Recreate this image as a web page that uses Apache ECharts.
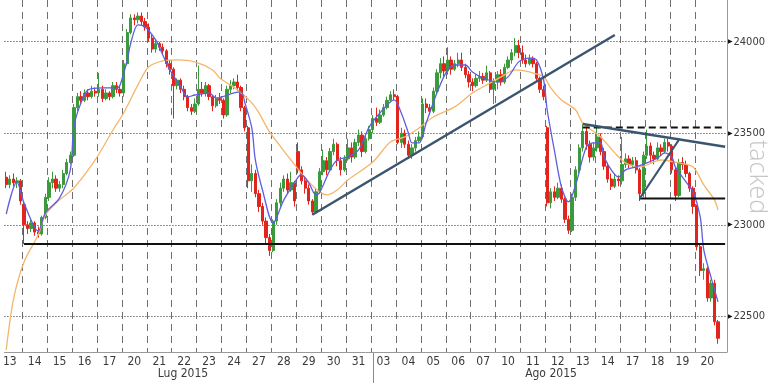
<!DOCTYPE html>
<html><head><meta charset="utf-8">
<script src="https://cdn.jsdelivr.net/npm/echarts@6/dist/echarts.min.js"></script>
<style>html,body{margin:0;padding:0;background:#fff}#c{width:768px;height:384px}</style>
</head><body><div id="c"></div>
<script>
// ---- data ----
const dayLabels = ['13','14','15','16','17','20','21','22','23','24','27','28','29','30','31',
                   '03','04','05','06','07','10','11','12','13','14','17','18','19','20'];
const monthLabels = ['Lug 2015', 'Ago 2015'];
const candlesPerDay = 7;
const firstDayCandles = 5;      // partial first day visible
const emptyTail = 2;            // empty slots after last candle
const monthStartIdx = 103;      // first candle of 03 Ago

// [open, close, low, high]
const julyCandles = [
 [23260,23220,23200,23290],[23220,23250,23200,23270],[23250,23230,23210,23280],[23230,23240,23200,23260],[23240,23130,23110,23250],
 [23110,23000,22895,23130],[23000,22980,22950,23020],[22980,23010,22960,23030],[23010,22960,22940,23020],[22960,22950,22930,22990],[22950,23040,22940,23050],[23040,23150,23030,23170],
 [23150,23230,23130,23260],[23230,23250,23200,23290],[23250,23200,23180,23270],[23200,23220,23180,23240],[23220,23280,23200,23300],[23280,23340,23270,23360],[23340,23380,23330,23400],
 [23380,23640,23370,23660],[23640,23700,23620,23720],[23700,23680,23660,23730],[23680,23720,23670,23740],[23720,23700,23680,23740],[23700,23730,23690,23760],[23730,23720,23700,23750],
 [23720,23740,23700,23830],[23740,23690,23670,23760],[23690,23720,23680,23740],[23720,23700,23680,23730],[23700,23760,23690,23780],[23760,23740,23720,23780],[23740,23720,23700,23760],
 [23720,23880,23700,23900],[23880,24050,23870,24070],[24050,24130,24040,24150],[24130,24120,24090,24150],[24120,24140,24100,24160],[24140,24110,24090,24160],[24110,24080,24060,24130],
 [24080,24020,24000,24100],[24020,23960,23940,24040],[23960,23990,23940,24010],[23990,23970,23950,24000],[23970,23950,23930,23990],[23950,23880,23860,23960],[23880,23850,23820,23900],
 [23850,23760,23580,23860],[23760,23790,23740,23800],[23790,23740,23720,23800],[23740,23700,23680,23760],[23700,23640,23620,23710],[23640,23620,23600,23660],[23620,23660,23610,23690],
 [23660,23740,23650,23870],[23740,23720,23700,23780],[23720,23760,23700,23780],[23760,23700,23680,23770],[23700,23650,23620,23710],[23650,23690,23640,23710],[23690,23680,23660,23720],
 [23680,23600,23580,23690],[23600,23740,23590,23760],[23740,23760,23720,23790],[23760,23780,23740,23800],[23780,23750,23730,23820],[23750,23640,23620,23760],[23640,23530,23510,23650],
 [23530,23240,23200,23540],[23240,23280,23180,23330],[23280,23170,23150,23300],[23170,23100,23070,23190],[23100,23020,23000,23120],[23020,22930,22900,23040],[22930,22860,22830,22950],
 [22860,23020,22850,23030],[23020,23120,23000,23140],[23120,23200,23100,23230],[23200,23250,23180,23270],[23250,23190,23170,23280],[23190,23230,23180,23290],[23230,23130,23100,23240],
 [23400,23300,23280,23450],[23300,23240,23220,23320],[23240,23200,23170,23260],[23200,23130,23110,23220],[23130,23070,23055,23140],[23070,23180,23060,23200],[23180,23290,23170,23310],
 [23290,23350,23270,23410],[23350,23300,23270,23370],[23300,23400,23290,23420],[23400,23440,23380,23470],[23440,23350,23320,23450],[23350,23300,23270,23370],[23300,23360,23290,23380],
 [23360,23420,23350,23470],[23420,23370,23340,23450],[23370,23450,23360,23470],[23450,23490,23430,23520],[23490,23400,23370,23510],[23400,23470,23390,23490],[23470,23520,23460,23540]
];
const augustCandles = [
 [23520,23580,23500,23600],[23580,23560,23540,23640],[23560,23600,23550,23630],[23600,23640,23590,23660],[23640,23680,23630,23700],[23680,23710,23670,23730],[23710,23700,23680,23740],
 [23700,23450,23440,23710],[23450,23500,23420,23530],[23500,23440,23420,23520],[23440,23380,23360,23460],[23380,23420,23360,23440],[23420,23460,23400,23480],[23460,23480,23450,23510],
 [23480,23660,23470,23690],[23660,23640,23610,23690],[23640,23620,23600,23660],[23620,23730,23610,23750],[23730,23830,23720,23850],[23830,23880,23800,23910],[23880,23840,23810,23920],
 [23840,23900,23820,23970],[23900,23850,23820,23920],[23850,23880,23840,23900],[23880,23900,23860,23940],[23900,23860,23840,23940],[23860,23820,23800,23880],[23820,23780,23750,23840],
 [23780,23760,23730,23800],[23760,23800,23750,23820],[23800,23810,23780,23840],[23810,23790,23770,23830],[23790,23830,23780,23870],[23830,23740,23720,23840],[23740,23780,23660,23800],
 [23780,23820,23740,23840],[23820,23780,23760,23850],[23780,23860,23770,23880],[23860,23900,23850,23920],[23900,23940,23880,23960],[23940,23980,23920,24020],[23980,23940,23910,24010],
 [23940,23900,23880,23980],[23900,23880,23860,23930],[23880,23910,23870,23930],[23910,23880,23860,23920],[23880,23800,23780,23890],[23800,23740,23720,23810],[23740,23700,23680,23760],
 [23530,23120,23100,23540],[23120,23180,23090,23200],[23180,23150,23130,23210],[23150,23200,23140,23230],[23200,23140,23120,23220],[23140,23030,23010,23150],[23030,22970,22950,23050],
 [22970,23150,22960,23170],[23150,23300,23130,23320],[23300,23420,23280,23440],[23420,23510,23400,23550],[23510,23440,23410,23530],[23440,23370,23340,23460],[23370,23420,23350,23450],
 [23420,23480,23400,23540],[23480,23400,23380,23500],[23400,23320,23300,23420],[23320,23250,23230,23340],[23250,23210,23190,23280],[23210,23250,23200,23280],[23250,23240,23210,23270],
 [23240,23330,23220,23480],[23330,23360,23310,23390],[23360,23330,23310,23380],[23330,23350,23310,23370],[23350,23300,23280,23370],[23300,23170,23130,23310],[23170,23380,23150,23400],
 [23380,23430,23360,23520],[23430,23380,23340,23450],[23380,23360,23330,23400],[23360,23420,23350,23450],[23420,23400,23380,23440],[23400,23450,23390,23470],[23450,23430,23400,23470],
 [23430,23300,23280,23440],[23300,23160,23130,23310],[23160,23340,23150,23360],[23340,23330,23300,23370],[23330,23280,23260,23350],[23280,23200,23180,23290],[23200,23100,23060,23210],
 [23100,22880,22860,23110],[22880,22750,22720,22900],[22750,22760,22700,22790],[22760,22600,22580,22770],[22600,22680,22580,22700],[22680,22470,22450,22700],[22470,22380,22350,22480]
];

// moving averages: [candle index, value]
const blueMA = [[0,23059],[3,23234],[5,23119],[9,22966],[11,23065],[15,23147],[18,23300],[19,23535],[21,23666],[23,23737],[27,23748],[31,23748],[32,23764],[34,23901],[35,23993],[37,24092],[39,24081],[42,24010],[44,23928],[46,23846],[49,23753],[51,23698],[53,23709],[57,23720],[59,23693],[64,23720],[66,23726],[67,23671],[69,23529],[70,23354],[72,23190],[75,23010],[78,23136],[82,23261],[83,23272],[85,23229],[87,23163],[88,23174],[91,23300],[93,23354],[96,23371],[99,23409],[102,23535],[105,23611],[109,23682],[111,23611],[113,23502],[114,23447],[116,23447],[118,23556],[121,23720],[124,23846],[126,23873],[129,23873],[131,23835],[134,23802],[138,23780],[141,23808],[144,23890],[147,23911],[149,23901],[151,23791],[152,23627],[154,23409],[156,23207],[158,23125],[160,23218],[163,23425],[165,23447],[167,23447],[168,23371],[170,23300],[172,23261],[174,23300],[177,23316],[180,23338],[183,23365],[185,23393],[187,23371],[188,23316],[191,23234],[193,23180],[195,23043],[196,22863],[198,22715],[200,22579]];
const orangeMA = [[0,22316],[2,22590],[5,22797],[9,22945],[11,23054],[15,23136],[19,23201],[25,23354],[30,23518],[33,23611],[37,23764],[40,23862],[44,23895],[48,23901],[53,23890],[58,23846],[60,23802],[65,23737],[69,23666],[71,23611],[74,23507],[80,23354],[84,23256],[88,23180],[90,23163],[93,23190],[96,23245],[103,23343],[108,23453],[112,23480],[116,23529],[120,23589],[126,23644],[131,23720],[136,23775],[140,23819],[143,23846],[147,23835],[151,23808],[153,23748],[156,23682],[160,23627],[162,23556],[167,23480],[171,23393],[174,23338],[178,23316],[184,23354],[189,23338],[193,23316],[196,23218],[199,23136],[200,23081]];

// drawn annotation lines: [candle index, value]
const supportLow   = [[5,22895],[202,22895]];
const supportHigh  = [[178,23144],[202,23144]];
const resistDashed = [[162,23531],[202,23531]];
const trendUp      = [[86,23055],[171,24037]];
const trendDown    = [[162,23551],[202,23426]];
const triangleUp   = [[178,23144],[189,23464]];

const yTicks = [22500, 23000, 23500, 24000];
const yMin = 22305, yMax = 24228;

// ---- build ----
const candles = julyCandles.concat(augustCandles);
const nCats = candles.length + emptyTail;
function dayOf(i){ return i < firstDayCandles ? 0 : Math.floor((i - firstDayCandles) / candlesPerDay) + 1; }
const categories = [];
for (let i = 0; i < nCats; i++) categories.push((i < candles.length ? dayLabels[dayOf(i)] : '') + '#' + i);
const lastLabelIdx = 1 + candlesPerDay * (dayLabels.length - 1);
const isLabel = i => (i - 1) % candlesPerDay === 0 && i <= lastLabelIdx;
const isBoundary = i => i >= firstDayCandles && (i - firstDayCandles) % candlesPerDay === 0 && i < candles.length;

const chart = echarts.init(document.getElementById('c'), null, {renderer: 'canvas'});
const narrow = "'Liberation Sans Narrow','Arial Narrow','DejaVu Sans Condensed',sans-serif";
const G = {left: 0, right: 33, top: 0, bottom: 32};
function lineSeries(data, color, width, type, z) {
  return {type: 'line', data: data, showSymbol: false, symbol: 'none', silent: true, z: z,
          lineStyle: {color: color, width: width, type: type || 'solid'}};
}
const plotW = 768 - G.left - G.right;
const monthX = G.left + monthStartIdx * plotW / nCats;

chart.setOption({
  animation: false,
  backgroundColor: '#ffffff',
  grid: G,
  xAxis: {
    type: 'category', data: categories, boundaryGap: true,
    axisLine: {show: true, lineStyle: {color: '#9a9a9a', width: 1}},
    axisTick: {show: false},
    axisLabel: {interval: (i) => isLabel(i), margin: 4, color: '#3a3a3a', fontSize: 12, fontFamily: narrow,
                formatter: (v) => v.split('#')[0]},
    splitLine: {show: true, interval: (i) => isBoundary(i), lineStyle: {color: '#6e6e6e', width: 1, type: [7, 5]}}
  },
  yAxis: {
    type: 'value', position: 'right', min: yMin, max: yMax, scale: true,
    axisLine: {show: true, lineStyle: {color: '#9a9a9a', width: 1}},
    axisTick: {show: false, customValues: yTicks},
    axisLabel: {customValues: yTicks, margin: 1, showMinLabel: true, showMaxLabel: true,
                formatter: (v) => '{a|\u25B6}{b|' + v + '}',
                rich: {a: {fontSize: 6, color: '#111', fontFamily: 'DejaVu Sans', padding: [0, 1, 0, 0]},
                       b: {fontSize: 11, color: '#3a3a3a', fontFamily: narrow}}},
    splitLine: {show: true, lineStyle: {color: '#2a2a2a', width: 1, type: [1, 2]}}
  },
  graphic: [
    {type: 'text', x: 757, y: 140, rotation: -Math.PI / 2, silent: true, z: 0,
     style: {text: 'tacked', fill: '#c6c6c6', font: '300 25px "Open Sans", "DejaVu Sans", sans-serif', textAlign: 'left', textVerticalAlign: 'middle'}},
    {type: 'text', x: 183, y: 374, silent: true,
     style: {text: monthLabels[0], fill: '#3a3a3a', font: '12px ' + narrow, textAlign: 'center', textVerticalAlign: 'middle'}},
    {type: 'text', x: 551, y: 374, silent: true,
     style: {text: monthLabels[1], fill: '#3a3a3a', font: '12px ' + narrow, textAlign: 'center', textVerticalAlign: 'middle'}},
    {type: 'line', silent: true, shape: {x1: Math.round(monthX) + 0.5, y1: 352, x2: Math.round(monthX) + 0.5, y2: 383},
     style: {stroke: '#8a8a8a', lineWidth: 1}}
  ],
  series: [
    {type: 'candlestick', data: candles, barWidth: 2.8, z: 2, silent: true,
     itemStyle: {color: '#3b9a3b', color0: '#e3241d', borderColor: '#3b9a3b', borderColor0: '#e3241d', borderWidth: 1}},
    Object.assign(lineSeries(orangeMA, '#f4b66a', 1.3, null, 3), {smooth: 0.3, connectNulls: true}),
    Object.assign(lineSeries(blueMA, '#5e5ee0', 1.3, null, 4), {smooth: 0.3, connectNulls: true}),
    lineSeries(supportLow, '#111111', 2, null, 5),
    lineSeries(supportHigh, '#111111', 2, null, 5),
    lineSeries(resistDashed, '#111111', 2, [7, 4], 5),
    lineSeries(trendUp, '#3b5570', 2.5, null, 6),
    lineSeries(trendDown, '#3b5570', 2.5, null, 6),
    lineSeries(triangleUp, '#3b5570', 2, null, 6)
  ]
});
</script></body></html>
